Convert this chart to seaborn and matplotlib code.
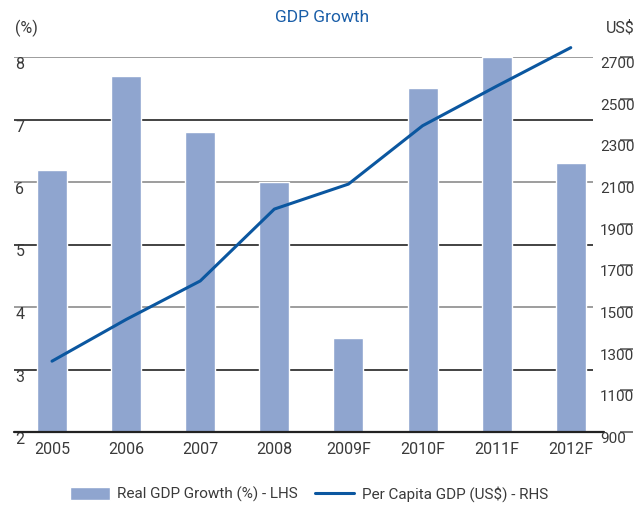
import matplotlib
matplotlib.use("Agg")
import matplotlib.pyplot as plt
from matplotlib import font_manager
import seaborn as sns
import pandas as pd

years = ["2005", "2006", "2007", "2008", "2009F", "2010F", "2011F", "2012F"]
gdp_growth = [6.2, 7.7, 6.8, 6.0, 3.5, 7.5, 8.0, 6.3]
per_capita = [1240, 1440, 1625, 1970, 2090, 2370, 2560, 2745]
left_ticks = [2, 3, 4, 5, 6, 7, 8]
right_ticks = [900, 1100, 1300, 1500, 1700, 1900, 2100, 2300, 2500, 2700]

BAR_COLOR = "#8fa5cf"
LINE_COLOR = "#0b57a0"
TEXT_COLOR = "#3a3a3a"
PX = 0.72  # points per pixel at dpi 100

sns.set_style("white")
installed = {f.name for f in font_manager.fontManager.ttflist}
fams = [f for f in ["Liberation Sans Narrow", "Roboto", "DejaVu Sans"] if f in installed]
plt.rcParams["font.family"] = fams

df = pd.DataFrame({"year": years, "growth": gdp_growth, "pc": per_capita,
                   "pos": range(len(years))})

fig = plt.figure(figsize=(6.44, 5.16), dpi=100)
ax = fig.add_axes([14 / 644, 84 / 516, 579 / 644, 375 / 516])

sns.barplot(data=df, x="year", y="growth", color=BAR_COLOR, width=0.405,
            saturation=1, ax=ax, label="Real GDP Growth (%) - LHS")
ax.set_ylim(2, 8)
ax.set_xlim(-0.513, 7.3)
ax.set_xlabel("")
ax.set_ylabel("")

# alternating grey / dark grid lines
for v in left_ticks[1:]:
    c = "#8c8c8c" if v % 2 == 0 else "#222222"
    ax.axhline(v, color=c, lw=1.2, zorder=0.5)
ax.axhline(2, xmin=0, xmax=1.019, color="#222222", lw=1.6, clip_on=False, zorder=3)

for s in ax.spines.values():
    s.set_visible(False)
ax.set_yticks(left_ticks)
ax.tick_params(axis="y", length=0, pad=-1, labelsize=11.5, labelcolor=TEXT_COLOR)
for t in ax.get_yticklabels():
    t.set_ha("left")
    t.set_va("top")
ax.tick_params(axis="x", length=0, pad=7, labelsize=11.5, labelcolor=TEXT_COLOR)

ax2 = ax.twinx()
sns.lineplot(data=df, x="pos", y="pc", color=LINE_COLOR, lw=2.2, ax=ax2,
             label="Per Capita GDP (US$) - RHS")
for ln in ax2.lines:
    ln.set_clip_on(False)
ax2.set_ylim(900, 2700)
ax2.set_xlim(-0.513, 7.3)
ax2.set_ylabel("")
ax2.set_xlabel("")
for s in ax2.spines.values():
    s.set_visible(False)
ax2.spines["right"].set_position(("outward", 27 * PX))
ax2.set_yticks(right_ticks)
ax2.tick_params(axis="y", direction="out", length=13 * PX, width=1.1, color="#555555",
                pad=-33 * PX, labelsize=11, labelcolor=TEXT_COLOR)
for t in ax2.get_yticklabels():
    t.set_va("top")

h1, l1 = ax.get_legend_handles_labels()
h2, l2 = ax2.get_legend_handles_labels()
for a in (ax, ax2):
    if a.get_legend() is not None:
        a.get_legend().remove()
fig.legend(h1 + h2, l1 + l2, loc="lower center", bbox_to_anchor=(0.48, 0.0),
           ncol=2, frameon=False, fontsize=11, handlelength=2.6,
           handleheight=0.9, handletextpad=0.5, columnspacing=1.1,
           labelcolor=TEXT_COLOR)

fig.text(0.5, 1 - 18 / 516, "GDP Growth", ha="center", va="center",
         color="#1a5ea8", fontsize=12.5)
fig.text(15 / 644, 1 - 28 / 516, "(%)", ha="left", va="center",
         color=TEXT_COLOR, fontsize=11.5)
fig.text(635 / 644, 1 - 28 / 516, "US$", ha="right", va="center",
         color=TEXT_COLOR, fontsize=11.5)

fig.savefig("out.png", dpi=100)
